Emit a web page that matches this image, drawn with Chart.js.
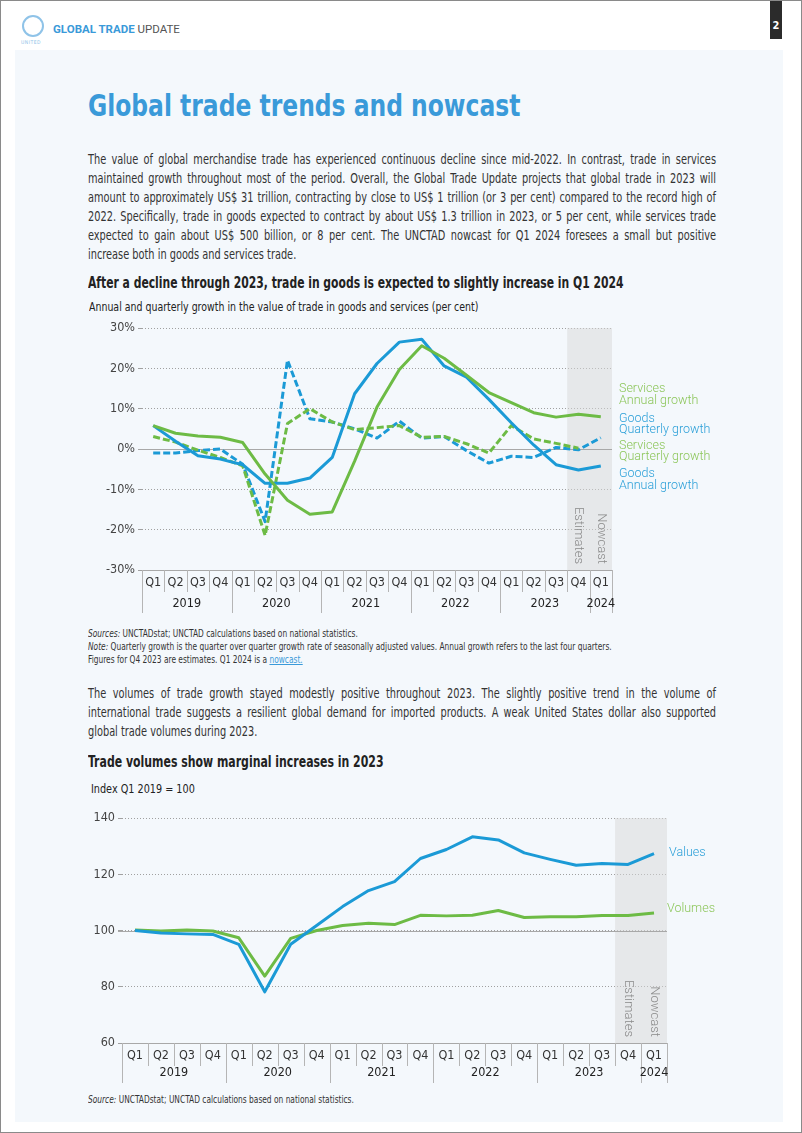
<!DOCTYPE html>
<html>
<head>
<meta charset="utf-8">
<script src="https://cdn.jsdelivr.net/npm/chart.js@4.4.1/dist/chart.umd.min.js"></script>
<style>
  body { margin: 0; background: #fff; }
  #page {
    position: relative; width: 800px; height: 1131px;
    border: 1px solid #8a8a8a; background: #fff; overflow: hidden;
    font-family: "DejaVu Sans Condensed", "Liberation Sans", sans-serif;
    color: #333;
  }
  #panel { position: absolute; left: 14px; top: 49px; width: 768px; height: 1072px; background: #f4f8fc; }
  .abs { position: absolute; }
  .sq { transform-origin: 0 0; white-space: nowrap; }
  .line { text-align: justify; text-align-last: justify; white-space: nowrap; }
  .last { text-align: left; text-align-last: left; }
  #logo { left: 21px; top: 14px; width: 22px; height: 22px; border-radius: 50%; border: 2px solid #8fc3e8; box-sizing: border-box; }
  #logoText { left: 20px; top: 38px; font-size: 5px; color: #8fc3e8; letter-spacing: 0.5px; }
  #brand { left: 52px; top: 21px; font-family: Roboto, sans-serif; font-size: 11.5px; }
  #pageNo { left: 769px; top: 0; width: 12px; height: 38px; background: #2b2b2b; color: #fff; font-size: 11px; font-weight: bold; text-align: center; line-height: 50px; }
  h1 { position: absolute; left: 87px; top: 86px; margin: 0; font-size: 31px; font-weight: bold; color: #3a9ad9; transform: scaleX(0.84); }
  .para { position: absolute; left: 87px; width: 785px; font-size: 13.6px; line-height: 18.9px; color: #333; transform: scaleX(0.8); }
  .head { position: absolute; left: 87px; margin: 0; font-size: 15px; font-weight: bold; color: #222; transform: scaleX(0.8); }
  .sub { position: absolute; left: 88px; font-size: 12.5px; color: #222; }
  .note { position: absolute; left: 87px; font-size: 10.5px; line-height: 13px; color: #333; transform: scaleX(0.79); }
  .note a { color: #3a9ad9; text-decoration: underline; }
</style>
</head>
<body>
<div id="page">
  <div id="panel"></div>
  <div class="abs" id="logo"></div>
  <div class="abs" id="logoText">UNITED</div>
  <div class="abs" id="brand"><span style="color:#3a9ad9;font-weight:bold">GLOBAL TRADE</span> <span style="color:#555">UPDATE</span></div>
  <div class="abs" id="pageNo">2</div>

  <h1 class="sq">Global trade trends and nowcast</h1>

  <div class="para sq" style="top:149px">
    <div class="line">The value of global merchandise trade has experienced continuous decline since mid-2022. In contrast, trade in services</div>
    <div class="line">maintained growth throughout most of the period. Overall, the Global Trade Update projects that global trade in 2023 will</div>
    <div class="line">amount to approximately US$ 31 trillion, contracting by close to US$ 1 trillion (or 3 per cent) compared to the record high of</div>
    <div class="line">2022. Specifically, trade in goods expected to contract by about US$ 1.3 trillion in 2023, or 5 per cent, while services trade</div>
    <div class="line">expected to gain about US$ 500 billion, or 8 per cent. The UNCTAD nowcast for Q1 2024 foresees a small but positive</div>
    <div class="line last">increase both in goods and services trade.</div>
  </div>

  <div class="head sq" style="top:273px">After a decline through 2023, trade in goods is expected to slightly increase in Q1 2024</div>
  <div class="sub sq" style="top:298px;transform:scaleX(0.838)">Annual and quarterly growth in the value of trade in goods and services (per cent)</div>

  <canvas id="growthChart" class="abs" style="left:80px;top:315px" width="640" height="300"></canvas>

  <div class="note sq" style="top:626px">
    <div><i>Sources:</i> UNCTADstat; UNCTAD calculations based on national statistics.</div>
    <div><i>Note:</i> Quarterly growth is the quarter over quarter growth rate of seasonally adjusted values. Annual growth refers to the last four quarters.</div>
    <div>Figures for Q4 2023 are estimates. Q1 2024 is a <a>nowcast.</a></div>
  </div>

  <div class="para sq" style="top:683px">
    <div class="line">The volumes of trade growth stayed modestly positive throughout 2023. The slightly positive trend in the volume of</div>
    <div class="line">international trade suggests a resilient global demand for imported products. A weak United States dollar also supported</div>
    <div class="line last">global trade volumes during 2023.</div>
  </div>

  <div class="head sq" style="top:752px;transform:scaleX(0.81)">Trade volumes show marginal increases in 2023</div>
  <div class="sub sq" style="top:780px;left:90px;transform:scaleX(0.86)">Index Q1 2019 = 100</div>

  <canvas id="volumeChart" class="abs" style="left:60px;top:805px" width="700" height="285"></canvas>

  <div class="note sq" style="top:1092px"><i>Source:</i> UNCTADstat; UNCTAD calculations based on national statistics.</div>
</div>

<script>
// Quarters shown on both charts
const periods = [
    "2019 Q1", "2019 Q2", "2019 Q3", "2019 Q4",
    "2020 Q1", "2020 Q2", "2020 Q3", "2020 Q4",
    "2021 Q1", "2021 Q2", "2021 Q3", "2021 Q4",
    "2022 Q1", "2022 Q2", "2022 Q3", "2022 Q4",
    "2023 Q1", "2023 Q2", "2023 Q3", "2023 Q4",
    "2024 Q1"
];

// Growth in per cent
const goodsAnnual = [5.8, 1.9, -1.7, -2.5, -3.9, -8.5, -8.5, -7.2, -2.1, 13.7, 21.2, 26.5, 27.2, 20.6, 17.8, 12.3, 6.5, 1.0, -3.9, -5.2, -4.2];
const servicesAnnual = [5.8, 3.9, 3.2, 2.9, 1.6, -6.2, -12.7, -16.2, -15.6, -3.0, 10.4, 19.7, 25.6, 22.5, 18.3, 14.0, 11.5, 9.0, 7.9, 8.6, 8.0];
const goodsQuarterly = [-1.0, -1.0, -0.4, 0.0, -3.8, -18.0, 22.0, 7.5, 6.7, 5.0, 2.7, 6.9, 2.7, 3.1, -0.4, -3.5, -1.8, -2.1, 0.4, -0.2, 2.8];
const servicesQuarterly = [3.1, 1.7, -0.3, -2.1, -4.2, -21.4, 6.3, 10.0, 6.7, 4.8, 5.3, 5.8, 2.9, 3.1, 1.3, -1.0, 5.8, 2.5, 1.4, 0.2, null];

// Index Q1 2019 = 100
const tradeValues = [100, 99.1, 98.8, 98.6, 95.1, 78.2, 95.1, 101.8, 108.5, 114.2, 117.4, 125.6, 128.8, 133.3, 132.2, 127.6, 125.3, 123.2, 123.8, 123.5, 127.3];
const tradeVolumes = [100.2, 99.8, 100.2, 99.8, 97.4, 83.8, 97.2, 100.0, 101.8, 102.6, 102.1, 105.4, 105.2, 105.4, 107.1, 104.6, 104.9, 104.9, 105.3, 105.3, 106.2];

const growthTicks = [-30, -20, -10, 0, 10, 20, 30];
const indexTicks = [60, 80, 100, 120, 140];

const BLUE = "#1b9ad6";
const GREEN = "#6dbb45";
const LABEL_FONT = "\"DejaVu Sans Condensed\", sans-serif";

// first index that is an estimate
const estimateStart = periods.indexOf("2023 Q4");

function quarterOf(p) { return p.split(" ")[1]; }

// shading, solid base line, year row, side labels
function decorations(baseValue, sideLabels, rows, shadeNotes) {
    return {
        id: "decorations",
        beforeDatasetsDraw(chart) {
            const { ctx, chartArea, scales } = chart;
            const x = scales.x, y = scales.y;
            const step = x.getPixelForValue(1) - x.getPixelForValue(0);
            const left = x.getPixelForValue(estimateStart) - step / 2;

            ctx.save();
            ctx.fillStyle = "rgba(215,215,215,0.5)";
            ctx.fillRect(left, chartArea.top, chartArea.right - left, chartArea.bottom - chartArea.top);

            // solid reference line
            const yb = Math.round(y.getPixelForValue(baseValue)) + 0.5;
            ctx.strokeStyle = "#a8a8a8";
            ctx.lineWidth = 1;
            ctx.beginPath();
            ctx.moveTo(chartArea.left - 4, yb);
            ctx.lineTo(chartArea.right, yb);
            ctx.stroke();

            // rotated notes in the band
            ctx.fillStyle = "#8a8a8a";
            ctx.font = "300 13px Roboto, sans-serif";
            ctx.textAlign = "right";
            ctx.textBaseline = "middle";
            shadeNotes.forEach((note, i) => {
                ctx.save();
                ctx.translate(x.getPixelForValue(estimateStart + i), chartArea.bottom - 6);
                ctx.rotate(Math.PI / 2);
                ctx.fillText(note, 0, 0);
                ctx.restore();
            });
            ctx.restore();
        },
        afterDraw(chart) {
            const { ctx, chartArea, scales } = chart;
            const x = scales.x, y = scales.y;
            const step = x.getPixelForValue(1) - x.getPixelForValue(0);
            const bottom = chartArea.bottom;

            ctx.save();
            ctx.strokeStyle = "#b5b5b5";
            ctx.lineWidth = 1;

            // separators between quarters and between years
            for (let i = 0; i <= periods.length; i++) {
                const px = Math.round(x.getPixelForValue(i) - step / 2) + 0.5;
                const yearEdge = i === 0 || i === periods.length || quarterOf(periods[i]) === "Q1";
                ctx.beginPath();
                ctx.moveTo(px, bottom);
                ctx.lineTo(px, bottom + (yearEdge ? rows.year : rows.quarter));
                ctx.stroke();
            }

            // year labels centred on their quarters
            ctx.fillStyle = "#222";
            ctx.font = "12.5px " + LABEL_FONT;
            ctx.textAlign = "center";
            ctx.textBaseline = "middle";
            const years = [...new Set(periods.map(p => p.split(" ")[0]))];
            years.forEach(yr => {
                const idx = periods.map((p, i) => p.startsWith(yr) ? i : -1).filter(i => i >= 0);
                const cx = (x.getPixelForValue(idx[0]) + x.getPixelForValue(idx[idx.length - 1])) / 2;
                ctx.fillText(yr, cx, bottom + rows.yearText);
            });

            // series labels to the right of the plot
            ctx.font = "300 12.5px Roboto, sans-serif";
            ctx.textAlign = "left";
            sideLabels.forEach(lbl => {
                ctx.fillStyle = lbl.color;
                const py = y.getPixelForValue(lbl.at);
                lbl.lines.forEach((t, k) => {
                    ctx.fillText(t, chartArea.right + lbl.dx, py + (k - (lbl.lines.length - 1) / 2) * 11.5);
                });
            });
            ctx.restore();
        }
    };
}

function lineSet(label, data, color, dashed) {
    return {
        label: label,
        data: data,
        borderColor: color,
        borderWidth: 3,
        borderDash: dashed ? [7, 3] : [],
        pointRadius: 0,
        tension: 0,
        fill: false,
        spanGaps: false,
        borderJoinStyle: "round"
    };
}

function scalesFor(ticksList, yWidth, xHeight, xPad, fmt) {
    return {
        x: {
            type: "category",
            offset: true,
            grid: { display: false, drawTicks: false },
            border: { display: true, color: "#a8a8a8" },
            ticks: {
                autoSkip: false,
                maxRotation: 0,
                padding: xPad,
                color: "#333",
                font: { size: 12.5, family: LABEL_FONT },
                callback: function (v) { return quarterOf(this.getLabelForValue(v)); }
            },
            afterFit: s => { s.height = xHeight; }
        },
        y: {
            min: ticksList[0],
            max: ticksList[ticksList.length - 1],
            afterBuildTicks: s => { s.ticks = ticksList.map(v => ({ value: v })); },
            grid: { color: "#a0a0a0", lineWidth: 1, tickLength: 4, drawTicks: true },
            border: { display: false, dash: [1, 2] },
            ticks: {
                padding: 3,
                color: "#444",
                font: { size: 12.5, family: LABEL_FONT },
                callback: fmt
            },
            afterFit: s => { s.width = yWidth; }
        }
    };
}

function drawGrowthChart() {
    new Chart(document.getElementById("growthChart"), {
        type: "line",
        data: {
            labels: periods,
            datasets: [
                lineSet("Services Annual growth", servicesAnnual, GREEN, false),
                lineSet("Goods Annual growth", goodsAnnual, BLUE, false),
                lineSet("Services Quarterly growth", servicesQuarterly, GREEN, true),
                lineSet("Goods Quarterly growth", goodsQuarterly, BLUE, true)
            ]
        },
        options: {
            responsive: false,
            animation: false,
            layout: { padding: { top: 12, right: 109, left: 0, bottom: 0 } },
            plugins: { legend: { display: false }, tooltip: { enabled: false } },
            scales: scalesFor(growthTicks, 61, 46, 5, v => v + "%")
        },
        plugins: [decorations(0, [
            { lines: ["Services", "Annual growth"], at: 13.4, color: "#8cc65a", dx: 7 },
            { lines: ["Goods", "Quarterly growth"], at: 6.1, color: "#2a9fd8", dx: 7 },
            { lines: ["Services", "Quarterly growth"], at: -0.6, color: "#8cc65a", dx: 7 },
            { lines: ["Goods", "Annual growth"], at: -7.6, color: "#2a9fd8", dx: 7 }
        ], { quarter: 22, year: 43, yearText: 34 }, ["Estimates", "Nowcast"])]
    });
}

function drawVolumeChart() {
    new Chart(document.getElementById("volumeChart"), {
        type: "line",
        data: {
            labels: periods,
            datasets: [
                lineSet("Values", tradeValues, BLUE, false),
                lineSet("Volumes", tradeVolumes, GREEN, false)
            ]
        },
        options: {
            responsive: false,
            animation: false,
            layout: { padding: { top: 12, right: 94, left: 0, bottom: 0 } },
            plugins: { legend: { display: false }, tooltip: { enabled: false } },
            scales: scalesFor(indexTicks, 61, 48, 5, v => v)
        },
        plugins: [decorations(100, [
            { lines: ["Values"], at: 127.7, color: "#2a9fd8", dx: 2 },
            { lines: ["Volumes"], at: 107.8, color: "#8cc65a", dx: 0 }
        ], { quarter: 23, year: 40, yearText: 30 }, ["Estimates", "Nowcast"])]
    });
}

drawGrowthChart();
drawVolumeChart();
</script>
</body>
</html>
